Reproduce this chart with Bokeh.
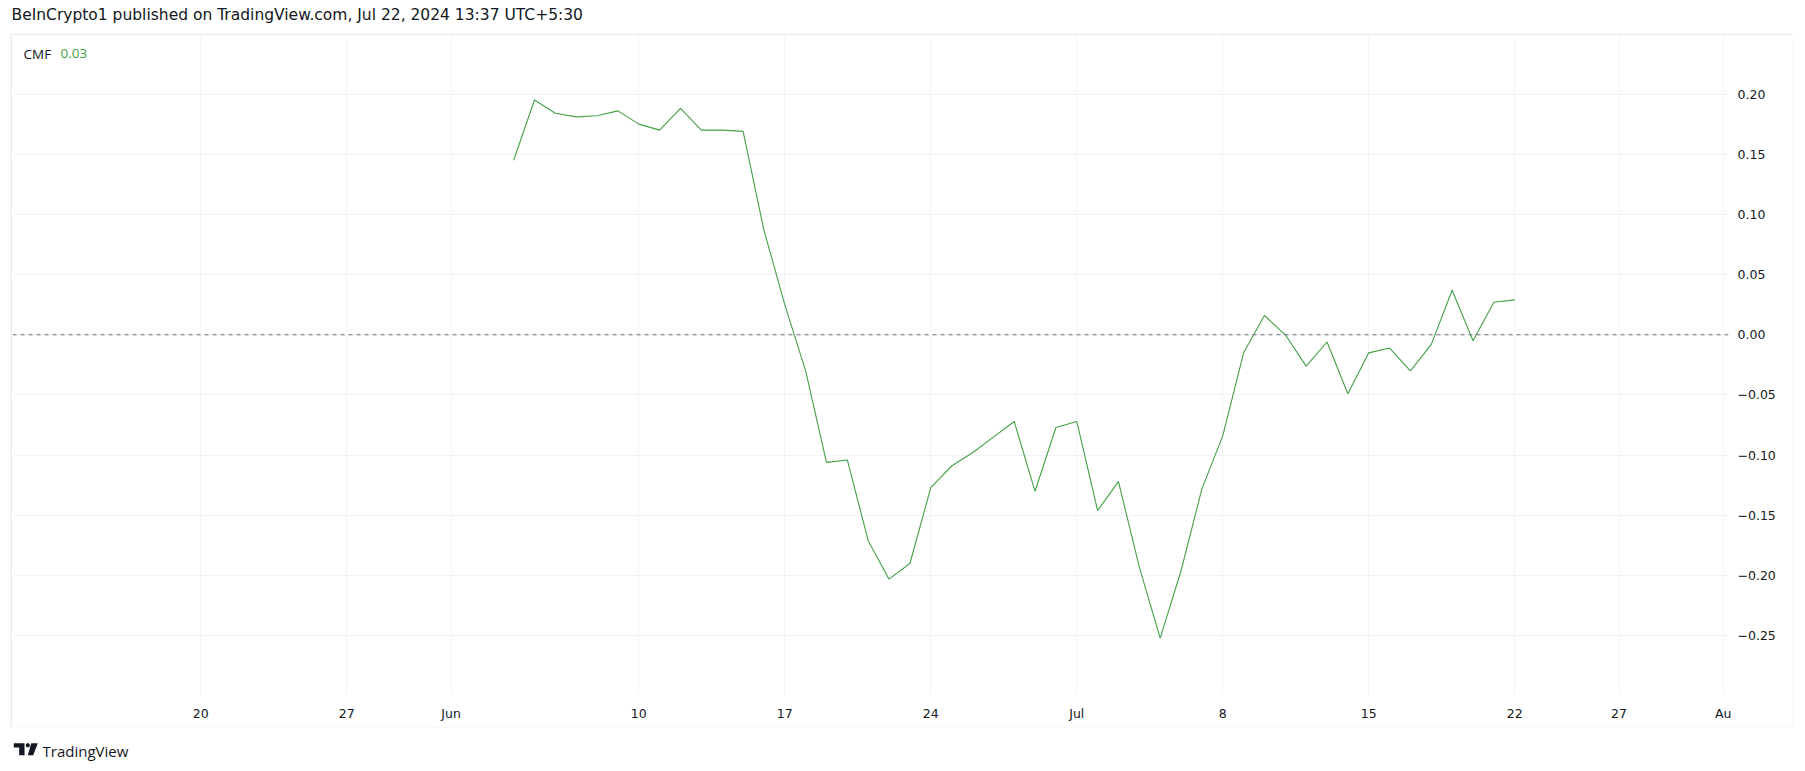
import math
import pandas as pd
from bokeh.plotting import figure
from bokeh.layouts import column, row
from bokeh.models import (Range1d, FixedTicker, Span, Label, PolyAnnotation, Spacer,
                          CustomJSTickFormatter, ColumnDataSource)
from bokeh.embed import file_html
from bokeh.resources import INLINE

# ---------------- data ----------------
start_date = "2024-06-04"
end_date = "2024-07-22"
cmf = [0.145, 0.195, 0.184, 0.181, 0.182, 0.186, 0.175, 0.170, 0.188, 0.170,
       0.170, 0.169, 0.087, 0.025, -0.030, -0.106, -0.104, -0.171, -0.203, -0.190,
       -0.127, -0.109, -0.098, -0.085, -0.072, -0.130, -0.077,
       -0.072, -0.146, -0.122, -0.193, -0.252, -0.196, -0.128, -0.084, -0.015,
       0.016, 0.000, -0.026, -0.006, -0.049, -0.015, -0.011, -0.030, -0.008,
       0.037, -0.005, 0.027, 0.029]
tick_dates = ["2024-05-20", "2024-05-27", "2024-06-01", "2024-06-10", "2024-06-17",
              "2024-06-24", "2024-07-01", "2024-07-08", "2024-07-15", "2024-07-22",
              "2024-07-27", "2024-08-01"]
tick_labels = ["20", "27", "Jun", "10", "17", "24", "Jul", "8", "15", "22", "27", "Au"]
price_ticks = [0.20, 0.15, 0.10, 0.05, 0.00, -0.05, -0.10, -0.15, -0.20, -0.25]
header_text = "BeInCrypto1 published on TradingView.com, Jul 22, 2024 13:37 UTC+5:30"
indicator_name = "CMF"
indicator_value = "0.03"
brand = "TradingView"

# ---------------- build ----------------
dates = pd.date_range(start_date, end_date, freq="D")
src = ColumnDataSource(dict(x=[d.value // 10**6 for d in dates], cmf=cmf))
tick_ms = [pd.Timestamp(d).value // 10**6 for d in tick_dates]

anchor = pd.Timestamp("2024-06-10")
day_ms = 86400000
x0 = anchor.value // 10**6 - 30.03 * day_ms
x1 = anchor.value // 10**6 + 52.25 * day_ms

GREEN = "#43a047"
TEXT = "#131722"
GRID = "#f0f3fa"
FONT = "Open Sans"

# ---- header strip (page y 0..34) ----
hdr = figure(width=1800, height=34, title=None, output_backend="svg", toolbar_location=None,
             x_axis_type=None, y_axis_type=None, x_range=Range1d(0, 1), y_range=Range1d(0, 1),
             min_border=0, outline_line_color=None, background_fill_color="white",
             border_fill_color="white")
hdr.add_layout(Label(x=11, y=34 - 14, x_units="screen", y_units="screen",
                     text=header_text, text_font="DejaVu Sans", text_font_size="15.5px",
                     text_color=TEXT, text_baseline="middle"))

# ---- main chart (page x 11..1792, y 34..727) ----
MW, MH = 1781, 693
p = figure(width=MW, height=MH, title=None, output_backend="svg", toolbar_location=None,
           x_range=Range1d(x0, x1), y_range=Range1d(-0.2988, 0.2486),
           y_axis_location="right",
           min_border_left=1, min_border_right=MW - 1 - 1716, min_border_top=1,
           min_border_bottom=MH - 1 - 659,
           background_fill_color="white", border_fill_color="white",
           outline_line_color=None)
p.styles = {"outline": "1px solid #e0e3eb", "outline-offset": "-1px",
            "box-shadow": "0 1px 2px rgba(0, 0, 0, 0.08)"}

p.line(x="x", y="cmf", source=src, line_color=GREEN, line_width=1.1)
p.add_layout(Span(location=0, dimension="width", line_color="#6a6d78",
                  line_dash="4 4", line_width=1))

xa = p.xaxis[0]
xa.ticker = FixedTicker(ticks=tick_ms)
xa.major_label_overrides = dict(zip(tick_ms, tick_labels))
ya = p.yaxis[0]
ya.ticker = FixedTicker(ticks=price_ticks)
ya.formatter = CustomJSTickFormatter(
    code="var v = Math.abs(tick) < 1e-9 ? 0 : tick; return (v < 0 ? '\u2212' : '') + Math.abs(v).toFixed(2);")
for ax in (xa, ya):
    ax.axis_line_color = None
    ax.major_tick_line_color = None
    ax.minor_tick_line_color = None
    ax.major_tick_out = 0
    ax.major_tick_in = 0
    ax.minor_tick_out = 0
    ax.minor_tick_in = 0
    ax.major_label_text_font = "DejaVu Sans"
    ax.major_label_text_font_size = "12.5px"
    ax.major_label_text_color = TEXT
xa.major_label_standoff = 11
ya.major_label_standoff = 9

p.xgrid.grid_line_color = GRID
p.ygrid.grid_line_color = GRID

# legend (frame-relative: page(X,Y) -> (X-12, 694-Y))
p.add_layout(Label(x=23 - 12, y=694 - 53, x_units="screen", y_units="screen",
                   text=indicator_name, text_font=FONT, text_font_size="13.5px",
                   text_color=TEXT, text_baseline="middle"))
p.add_layout(Label(x=60 - 12, y=694 - 53, x_units="screen", y_units="screen",
                   text=indicator_value, text_font=FONT, text_font_size="13.5px",
                   text_color=GREEN, text_baseline="middle"))

main_row = row(Spacer(width=11, height=MH), p)

# ---- footer strip (page y 727..767) ----
FT = 727
FH = 40
ftr = figure(width=1800, height=FH, title=None, output_backend="svg", toolbar_location=None,
             x_axis_type=None, y_axis_type=None, x_range=Range1d(0, 1), y_range=Range1d(0, 1),
             min_border=0, outline_line_color=None, background_fill_color="white",
             border_fill_color="white")
def fy(Y):
    return FT + FH - Y
ftr.add_layout(Label(x=42, y=fy(750), x_units="screen", y_units="screen",
                     text=brand, text_font=FONT, text_font_size="15px",
                     text_color=TEXT, text_baseline="middle"))
t_shape = [(13.3, 742.7), (24, 742.7), (24, 754.7), (18.7, 754.7), (18.7, 746.9), (13.3, 746.9)]
slash = [(30.7, 742.7), (37.3, 742.7), (32.7, 754.7), (27.3, 754.7)]
dot = [(27.3 + 2.1 * math.cos(a * math.pi / 10), 744.8 + 2.1 * math.sin(a * math.pi / 10)) for a in range(20)]
for shape in (t_shape, slash, dot):
    ftr.add_layout(PolyAnnotation(xs=[a for a, b in shape], ys=[fy(b) for a, b in shape],
                                  xs_units="screen", ys_units="screen",
                                  fill_color=TEXT, fill_alpha=1, line_color=None))

layout = column(hdr, main_row, ftr)
open("out.html", "w").write(file_html(layout, INLINE))
